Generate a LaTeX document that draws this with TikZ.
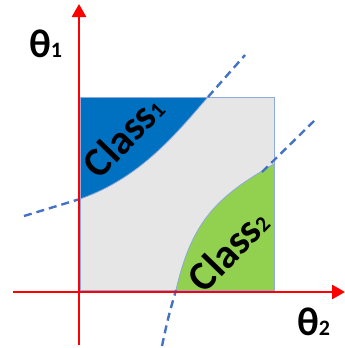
\documentclass[tikz,border=0pt]{standalone}
\usepackage{fontspec}
\setmainfont{Carlito}
\usetikzlibrary{arrows.meta}

\definecolor{axisred}{HTML}{FF0000}
\definecolor{panelgray}{HTML}{E7E6E6}
\definecolor{edgeblue}{HTML}{8FAADC}
\definecolor{classblue}{HTML}{0070C0}
\definecolor{classgreen}{HTML}{92D050}
\definecolor{dashblue}{HTML}{4472C4}

\newcommand{\subdigit}[1]{{\fontsize{22}{22}\selectfont #1}}

\begin{document}
\begin{tikzpicture}[x=1pt,y=-1pt,
    axis/.style={axisred, line width=2.6pt, -{Triangle[length=13pt,width=14pt]}},
    boundary/.style={dashblue, line width=2.4pt, dash pattern=on 8pt off 5pt},
    edge/.style={edgeblue, line width=0.8pt},
    axislabel/.style={font=\fontsize{40}{40}\selectfont\bfseries, inner sep=0pt, anchor=base west},
    classlabel/.style={font=\fontsize{41}{41}\selectfont\bfseries, inner sep=0pt, rotate=46}]
    \useasboundingbox (0,0) rectangle (345,348);

    % Parameter plane
    \fill[panelgray] (80,97) rectangle (274,290);

    % Regions of the two classes
    \fill[classblue] (80,97) -- (208,97) .. controls (175,135) and (140,178) .. (80,199) -- cycle;
    \fill[classgreen] (274,290) -- (176,290) .. controls (192,220) and (218,196) .. (274,164) -- cycle;
    \draw[edge] (208,97) .. controls (175,135) and (140,178) .. (80,199);
    \draw[edge] (176,290) .. controls (192,220) and (218,196) .. (274,164);
    \draw[edge] (80,97) rectangle (274,290);

    % Decision boundaries outside the plane
    \coordinate (b1a) at (24,216);
    \coordinate (b1b) at (80,199);
    \coordinate (b1c) at (208,97);
    \coordinate (b1d) at (245,55);
    \coordinate (b2a) at (162,346);
    \coordinate (b2b) at (176,290);
    \coordinate (b2c) at (262,172);
    \coordinate (b2d) at (315,120);
    \draw[boundary] (b1a) -- (b1b);
    \draw[boundary] (b1c) -- (b1d);
    \draw[boundary] (b2a) .. controls (168,318) .. (b2b);
    \draw[boundary] (b2c) -- (b2d);

    % Axes
    \coordinate (ybot) at (79,345);
    \coordinate (ytop) at (79,4);
    \coordinate (xleft) at (13,292);
    \coordinate (xright) at (345,292);
    \draw[axis] (ybot) -- (ytop);
    \draw[axis] (xleft) -- (xright);

    % Labels
    \node[axislabel] (theta1) at (29,57) {θ\subdigit{1}};
    \node[axislabel] (theta2) at (297,335) {θ\subdigit{2}};
    \node[classlabel] (class1) at (123,136) {Class\subdigit{1}};
    \node[classlabel] (class2) at (228,250) {Class\subdigit{2}};
\end{tikzpicture}
\end{document}
